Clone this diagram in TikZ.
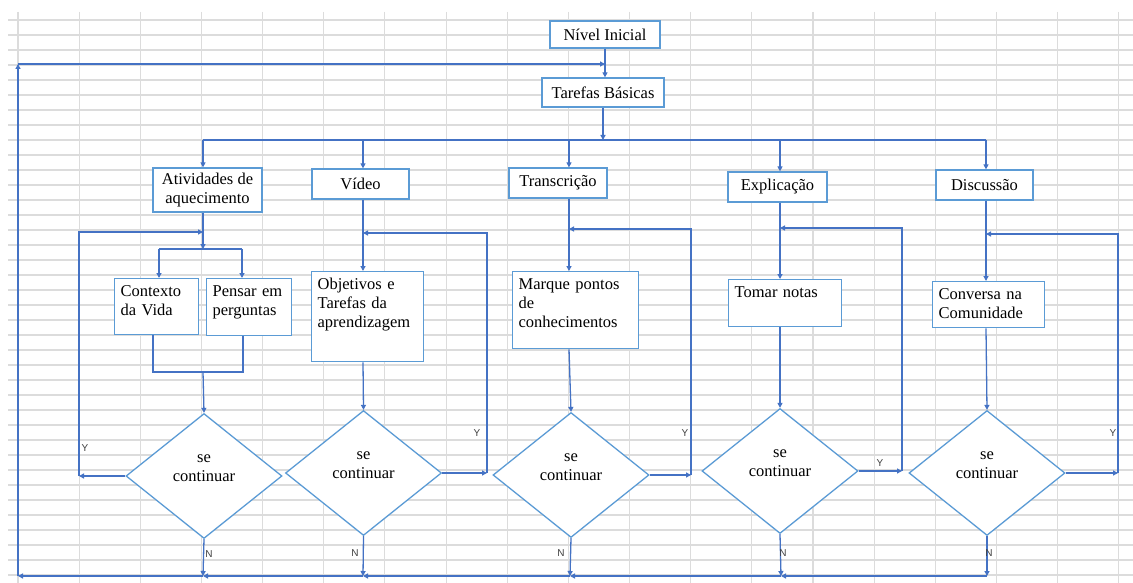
\documentclass[tikz,border=0pt]{standalone}
\usepackage{fontspec}
\setmainfont{Liberation Serif}
\setsansfont{Liberation Sans}
\usetikzlibrary{shapes.geometric,arrows.meta}

\begin{document}
\begin{tikzpicture}[x=1pt,y=-1pt,
    stagebox/.style={shape=rectangle,draw=flow_box,line width=1.3pt,fill=white,align=center,inner sep=3pt,font=\fontsize{16.5}{19}\selectfont},
    notebox/.style={shape=rectangle,draw=flow_box,line width=1.3pt,fill=white,anchor=north west,align=left,inner xsep=6pt,inner ysep=6pt,text height=12pt,font=\fontsize{16.5}{19}\selectfont},
    decision/.style={shape=diamond,draw=flow_box,line width=1.3pt,fill=white,align=center,inner sep=0pt,minimum width=156pt,minimum height=125pt,text depth=16pt,font=\fontsize{16.5}{19}\selectfont},
    flow/.style={draw=flow_line,line width=1.3pt,-{Triangle[length=5pt,width=5pt]}},
    link/.style={draw=flow_line,line width=1.3pt},
    gridline/.style={draw=flow_grid,line width=1.1pt},
    tag/.style={font=\sffamily\fontsize{10}{11}\selectfont,text=flow_tag,inner sep=1pt}]
    \definecolor{flow_line}{RGB}{68,114,196}
    \definecolor{flow_box}{RGB}{91,155,213}
    \definecolor{flow_grid}{RGB}{220,220,220}
    \definecolor{flow_tag}{RGB}{64,64,64}
    \useasboundingbox[fill=white] (0,0) rectangle (1133,583);
    \foreach \k in {0,...,18}
        \draw[gridline] ({18+61.15*\k},12) to ({18+61.15*\k},583);
    \foreach \j in {0,...,37}
        \draw[gridline] (8,{20+15*\j}) to (1133,{20+15*\j});
    \node[stagebox,minimum width=110pt,minimum height=27pt] (nivel) at (605,34.5) {Nível Inicial};
    \node[stagebox,minimum width=122pt,minimum height=29pt] (basicas) at (603,92.5) {Tarefas Básicas};
    \node[stagebox,minimum width=109pt,minimum height=44pt] (atividades) at (207.5,190) {Atividades de\\aquecimento};
    \node[stagebox,minimum width=97pt,minimum height=30pt] (video) at (360.5,184) {Vídeo};
    \node[stagebox,minimum width=98pt,minimum height=30pt] (transcricao) at (558,183) {Transcrição};
    \node[stagebox,minimum width=99pt,minimum height=30pt] (explicacao) at (777.5,187) {Explicação};
    \node[stagebox,minimum width=97pt,minimum height=30pt] (discussao) at (984.5,185) {Discussão};
    \node[notebox,text width=72pt,text depth=32pt] (contexto) at (114,278) {Contexto\\da Vida};
    \node[notebox,text width=73pt,text depth=33pt] (pensar) at (206,278) {Pensar em\\perguntas};
    \node[notebox,text width=100pt,text depth=66pt] (objetivos) at (311,271) {Objetivos e\\Tarefas da\\aprendizagem};
    \node[notebox,text width=114pt,text depth=53pt] (marque) at (512,271) {Marque pontos\\de\\conhecimentos};
    \node[notebox,text width=101pt,text depth=23pt] (notas) at (728,279) {Tomar notas};
    \node[notebox,text width=100pt,text depth=22pt] (conversa) at (932,281) {Conversa na\\Comunidade};
    \node[decision] (dec1) at (204,476) {se\\continuar};
    \node[decision] (dec2) at (363.5,473) {se\\continuar};
    \node[decision] (dec3) at (571,475) {se\\continuar};
    \node[decision] (dec4) at (780,471) {se\\continuar};
    \node[decision] (dec5) at (987,473) {se\\continuar};
    \coordinate (split) at (603,140);
    \coordinate (bus1) at (203,140);
    \coordinate (bus2) at (363,140);
    \coordinate (bus3) at (569,140);
    \coordinate (bus4) at (780,140);
    \coordinate (bus5) at (986,140);
    \draw[flow] (nivel.south) to (nivel.south |- basicas.north);
    \draw[flow] (basicas) to (split);
    \draw[link] (bus1) to (bus5);
    \draw[flow] (bus1) to (bus1 |- atividades.north);
    \draw[flow] (bus2) to (bus2 |- video.north);
    \draw[flow] (bus3) to (bus3 |- transcricao.north);
    \draw[flow] (bus4) to (bus4 |- explicacao.north);
    \draw[flow] (bus5) to (bus5 |- discussao.north);
    \coordinate (fork1) at (203,249);
    \coordinate (forkL) at (159,249);
    \coordinate (forkR) at (242,249);
    \coordinate (mergeL) at (153,372);
    \coordinate (mergeR) at (243,372);
    \coordinate (merge1) at (203,372);
    \draw[flow] (fork1 |- atividades.south) to (fork1);
    \draw[link] (forkL) to (forkR);
    \draw[flow] (forkL) to (forkL |- contexto.north);
    \draw[flow] (forkR) to (forkR |- pensar.north);
    \draw[link] (mergeL |- contexto.south) to (mergeL) to (mergeR) to (mergeR |- pensar.south);
    \draw[flow] (merge1) to (dec1.north);
    \draw[flow] (bus2 |- video.south) to (bus2 |- objetivos.north);
    \draw[flow] (bus2 |- objetivos.south) to (dec2.north);
    \draw[flow] (bus3 |- transcricao.south) to (bus3 |- marque.north);
    \draw[flow] (bus3 |- marque.south) to (dec3.north);
    \draw[flow] (bus4 |- explicacao.south) to (bus4 |- notas.north);
    \draw[flow] (bus4 |- notas.south) to (dec4.north);
    \draw[flow] (bus5 |- discussao.south) to (bus5 |- conversa.north);
    \draw[flow] (bus5 |- conversa.south) to (dec5.north);
    \coordinate (back1) at (79,476);
    \coordinate (join1) at (203,232);
    \coordinate (back2) at (487,473);
    \coordinate (join2) at (363,233);
    \coordinate (back3) at (691,475);
    \coordinate (join3) at (569,229);
    \coordinate (back4) at (902,471);
    \coordinate (join4) at (780,228);
    \coordinate (back5) at (1118,473);
    \coordinate (join5) at (986,234);
    \foreach \i/\side in {1/west,2/east,3/east,4/east,5/east} {
        \draw[flow] (dec\i.\side) to (back\i);
        \draw[flow] (back\i) |- (join\i);
    }
    \coordinate (out1) at (203,576);
    \coordinate (out2) at (363,576);
    \coordinate (out3) at (570,576);
    \coordinate (out4) at (781,576);
    \coordinate (out5) at (987,576);
    \foreach \i in {1,...,5}
        \draw[flow] (dec\i.south) to (out\i);
    \draw[flow] (out5) to (out4);
    \draw[flow] (out4) to (out3);
    \draw[flow] (out3) to (out2);
    \draw[flow] (out2) to (out1);
    \coordinate (corner) at (18,576);
    \coordinate (top) at (18,64);
    \draw[flow] (out1) to (corner);
    \draw[flow] (corner) to (top);
    \draw[flow] (top) to (nivel.south |- top);
    \node[tag] (y1) at (85,448) {Y};
    \node[tag] (y2) at (477,433) {Y};
    \node[tag] (y3) at (685,433) {Y};
    \node[tag] (y4) at (880,463) {Y};
    \node[tag] (y5) at (1113,433) {Y};
    \node[tag] (n1) at (209,554) {N};
    \node[tag] (n2) at (355,553) {N};
    \node[tag] (n3) at (561,553) {N};
    \node[tag] (n4) at (783,553) {N};
    \node[tag] (n5) at (989,553) {N};
\end{tikzpicture}
\end{document}
